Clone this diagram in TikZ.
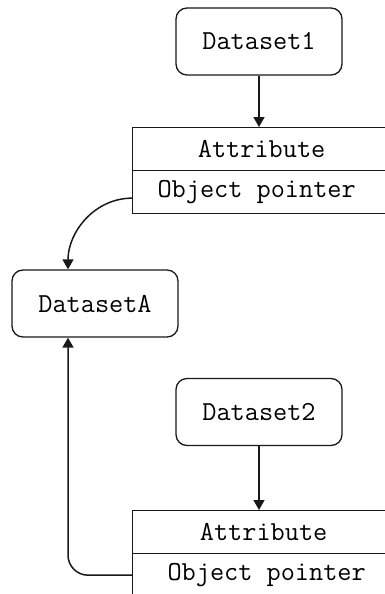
\documentclass[tikz,border=0pt]{standalone}
\usepackage{fontspec}
\usetikzlibrary{arrows.meta,positioning,calc}

\begin{document}
\begin{tikzpicture}[x=1pt, y=-1pt,
    dsbox/.style={draw=black!90, line width=1.3pt, rounded corners=11pt, minimum width=166pt, minimum height=67pt, font=\ttfamily\fontsize{27.5}{31}\selectfont},
    cell/.style={draw=black!90, line width=1.3pt, minimum width=262pt, minimum height=43pt, anchor=north west, font=\ttfamily\fontsize{27.5}{31}\selectfont},
    link/.style={draw=black!90, line width=1.5pt, -{Triangle[length=10pt, width=11pt]}}]
  \useasboundingbox (0,0) rectangle (385,594);
  \clip (0,0) rectangle (385,594);

  \node[dsbox] (ds1) at (259,41.5) {Dataset1};
  \node[cell] (attr1) at (132,127) {Attribute\hspace*{4pt}};
  \node[cell] (ptr1) at (132,170) {Object pointer\hspace*{14pt}};

  \node[dsbox] (dsA) at (95,303.5) {DatasetA};

  \node[dsbox] (ds2) at (259,412) {Dataset2};
  \node[cell] (attr2) at (132,510) {Attribute};
  \node[cell] (ptr2) at (132,553) {\hspace*{6pt}Object pointer};

  \coordinate (inA) at ([xshift=-27pt]dsA.north);
  \coordinate (inB) at ([xshift=-27pt]dsA.south);

  \draw[link] (ds1.south) -- (ds1.south |- attr1.north);
  \draw[link] (ds2.south) -- (ds2.south |- attr2.north);
  \draw[link] ([yshift=-6pt]ptr1.west) to[out=180, in=90] (inA);
  \draw[link, rounded corners=20pt] (ptr2.west) -| (inB);
\end{tikzpicture}
\end{document}
